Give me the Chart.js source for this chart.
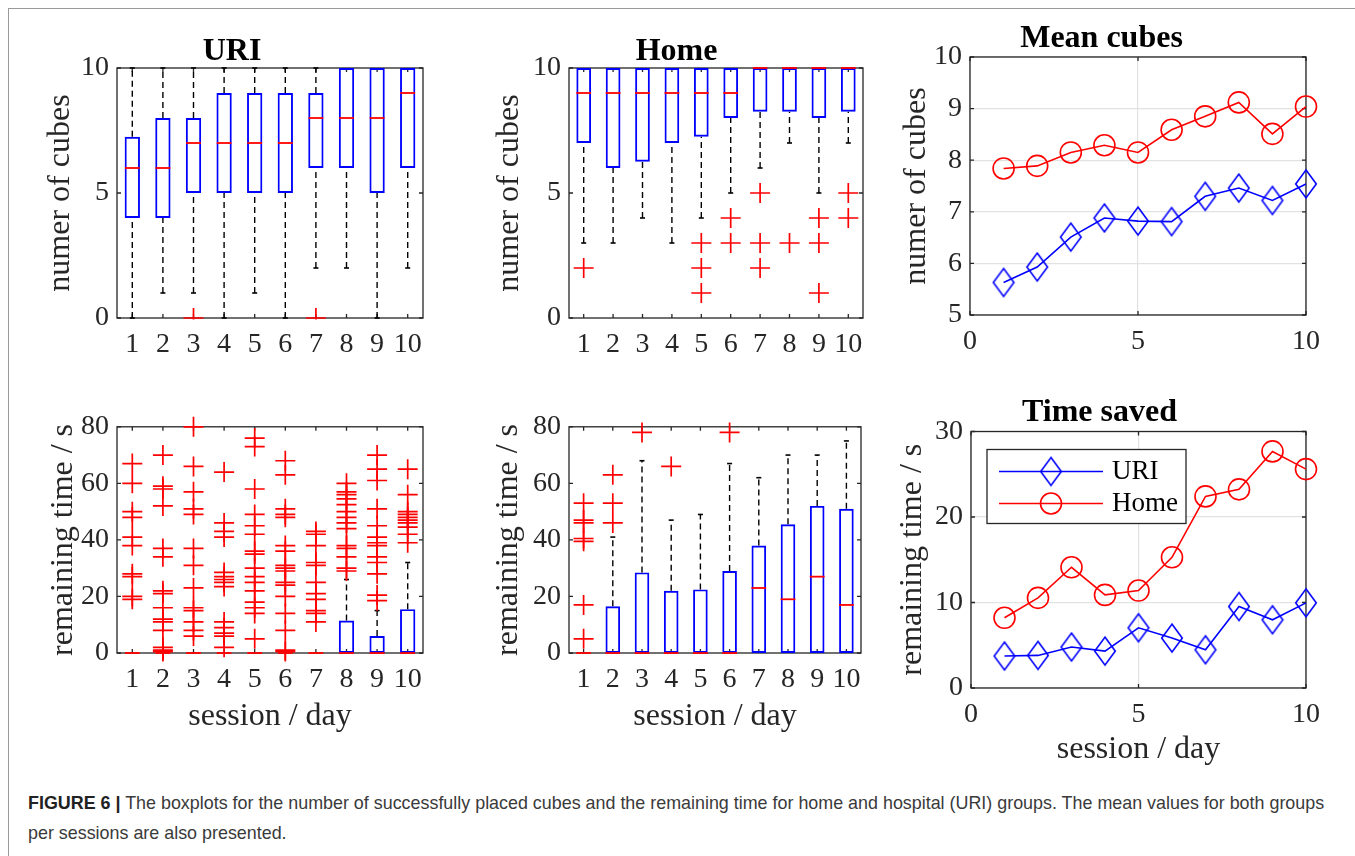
<!DOCTYPE html>
<html>
<head>
<meta charset="utf-8">
<script src="https://cdn.jsdelivr.net/npm/chart.js@4.4.0/dist/chart.umd.min.js"></script>
<style>
  body { margin: 0; width: 1355px; height: 856px; background: #fff; position: relative; overflow: hidden; }
  .frame { position: absolute; left: 8px; top: 8px; width: 1360px; height: 860px; border-left: 1px solid #9a9a9a; border-top: 1px solid #9a9a9a; }
  .caption { position: absolute; left: 28px; top: 788px; font: 17.9px 'Liberation Sans', Arial, sans-serif; line-height: 30px; color: #3a3a3a; white-space: nowrap; }
  .caption b { color: #222; }
</style>
</head>
<body>
<div class="frame"></div>
<div class="caption"><b>FIGURE 6 |</b> The boxplots for the number of successfully placed cubes and the remaining time for home and hospital (URI) groups. The mean values for both groups<br>per sessions are also presented.</div>
<script>
const sessions = ['1', '2', '3', '4', '5', '6', '7', '8', '9', '10']
const sessionNums = [1, 2, 3, 4, 5, 6, 7, 8, 9, 10]

// number of cubes, URI group
const uriCubesLo = [0, 1, 1, 0, 1, 0, 2, 2, 0, 2]
const uriCubesQ1 = [4, 4, 5, 5, 5, 5, 6, 6, 5, 6]
const uriCubesMed = [6, 6, 7, 7, 7, 7, 8, 8, 8, 9]
const uriCubesQ3 = [7.25, 8, 8, 9, 9, 9, 9, 10, 10, 10]
const uriCubesHi = [10, 10, 10, 10, 10, 10, 10, 10, 10, 10]
const uriCubesOut = [[], [], [0], [], [], [], [0], [], [], []]

// number of cubes, Home group
const homeCubesLo = [3, 3, 4, 3, 4, 5, 6, 7, 5, 7]
const homeCubesQ1 = [7, 6, 6.25, 7, 7.25, 8, 8.25, 8.25, 8, 8.25]
const homeCubesMed = [9, 9, 9, 9, 9, 9, 10, 10, 10, 10]
const homeCubesQ3 = [10, 10, 10, 10, 10, 10, 10, 10, 10, 10]
const homeCubesHi = [10, 10, 10, 10, 10, 10, 10, 10, 10, 10]
const homeCubesOut = [[2], [], [], [], [3, 2, 1], [4, 3], [5, 3, 2], [3], [4, 3, 1], [5, 4]]

// remaining time, URI group
const uriTimeLo = [0, 0, 0, 0, 0, 0, 0, 0, 0, 0]
const uriTimeQ1 = [0, 0, 0, 0, 0, 0, 0, 0, 0, 0]
const uriTimeMed = [0, 0, 0, 0, 0, 0, 0, 0, 0, 0]
const uriTimeQ3 = [0, 0, 0, 0, 0, 0, 0, 11.5, 6, 15.5]
const uriTimeHi = [0, 0, 0, 0, 0, 0, 0, 26, 15, 32]
const uriTimeOut = [
  [67, 60, 50, 48, 41, 38, 28, 27, 20, 19],
  [70, 59, 58, 52, 37, 34, 22, 21, 16, 12, 11, 8, 2, 1, 0.5],
  [80, 66, 57, 51, 49, 37, 31, 23, 16, 15, 11, 8, 6],
  [64, 46, 43, 41, 28.5, 27, 26, 25, 23.5, 11, 9, 7, 6, 2],
  [76, 73, 58, 49, 45, 42, 36, 35, 30, 27, 25, 22, 18, 16, 14, 5],
  [68, 63, 51, 49, 48, 38, 36, 31, 30, 29, 25, 24, 20, 14, 8, 1, 0.5],
  [43, 42, 38, 32, 31, 25, 21, 19, 15, 14, 11],
  [60, 57, 56, 54.5, 52.5, 50, 48, 46, 44, 38, 37, 34, 30, 29],
  [70, 65, 61, 51, 45, 41, 39, 38, 34, 32, 28, 20.5, 18.5],
  [65, 56, 50, 49, 48, 47, 46, 44.5, 42, 39]
]

// remaining time, Home group
const homeTimeLo = [0, 0, 0, 0, 0, 0, 0, 0, 0, 0]
const homeTimeQ1 = [0, 0, 0, 0, 0, 0, 0, 0, 0, 0]
const homeTimeMed = [0, 0, 0, 0, 0, 0, 23, 19, 27, 17]
const homeTimeQ3 = [0, 16.5, 28.5, 22, 22.5, 29, 38, 45.5, 52, 51]
const homeTimeHi = [0, 41, 68, 47, 49, 67, 62, 70, 70, 75]
const homeTimeOut = [[53, 47, 46, 40.5, 39.5, 17, 5], [63, 53, 46], [78], [66], [], [78], [], [], [], []]

// means per session
const uriMeanCubes = [5.63, 5.93, 6.51, 6.88, 6.82, 6.81, 7.30, 7.46, 7.22, 7.54]
const homeMeanCubes = [7.84, 7.89, 8.15, 8.29, 8.15, 8.59, 8.85, 9.12, 8.51, 9.04]
const uriMeanTime = [3.74, 3.81, 4.79, 4.32, 7.04, 5.84, 4.47, 9.53, 7.98, 9.96]
const homeMeanTime = [8.21, 10.54, 14.12, 10.89, 11.40, 15.29, 22.41, 23.23, 27.67, 25.6]

const BLUE = '#0000ff'
const RED = '#ff0000'
const AXIS = '#262626'
const SERIF = "'Liberation Serif', 'Times New Roman', serif"

Chart.defaults.font.family = SERIF
Chart.defaults.color = AXIS
Chart.defaults.animation = false

// MATLAB 'd' marker is a bit taller than wide
function diamondMarker (color) {
  const c = document.createElement('canvas')
  c.width = 24
  c.height = 32
  const g = c.getContext('2d')
  g.strokeStyle = color
  g.lineWidth = 1.6
  g.beginPath()
  g.moveTo(12, 2)
  g.lineTo(22.3, 16)
  g.lineTo(12, 30)
  g.lineTo(1.7, 16)
  g.closePath()
  g.stroke()
  return c
}
const diamondBlue = diamondMarker(BLUE)

// axes box and inward ticks, drawn under the data like MATLAB
const axesBox = {
  id: 'axesBox',
  beforeDatasetsDraw (chart) {
    const { ctx, chartArea: a, scales: { x, y } } = chart
    const len = 4
    ctx.save()
    ctx.strokeStyle = AXIS
    ctx.lineWidth = 1.3
    ctx.strokeRect(a.left, a.top, a.right - a.left, a.bottom - a.top)
    ctx.beginPath()
    x.ticks.forEach((t, i) => {
      const px = x.getPixelForTick(i)
      ctx.moveTo(px, a.bottom); ctx.lineTo(px, a.bottom - len)
      ctx.moveTo(px, a.top); ctx.lineTo(px, a.top + len)
    })
    y.ticks.forEach((t, i) => {
      const py = y.getPixelForTick(i)
      ctx.moveTo(a.left, py); ctx.lineTo(a.left + len, py)
      ctx.moveTo(a.right, py); ctx.lineTo(a.right - len, py)
    })
    ctx.stroke()
    ctx.restore()
  }
}

const timeLegend = {
  id: 'timeLegend',
  afterDatasetsDraw (chart) {
    const { ctx, chartArea: a } = chart
    const x0 = a.left + 16
    const y0 = a.top + 18
    ctx.save()
    ctx.fillStyle = '#fff'
    ctx.fillRect(x0, y0, 199, 74)
    ctx.strokeStyle = AXIS
    ctx.lineWidth = 1.3
    ctx.strokeRect(x0, y0, 199, 74)
    chart.data.datasets.forEach((ds, i) => {
      const ry = y0 + 22 + i * 32
      const mx = x0 + 64
      ctx.strokeStyle = ds.borderColor
      ctx.lineWidth = 1.5
      ctx.beginPath()
      ctx.moveTo(x0 + 12, ry)
      ctx.lineTo(x0 + 116, ry)
      ctx.stroke()
      if (ds.pointStyle === 'circle') {
        ctx.lineWidth = ds.pointBorderWidth
        ctx.beginPath()
        ctx.arc(mx, ry, ds.pointRadius, 0, Math.PI * 2)
        ctx.stroke()
      } else {
        ctx.drawImage(ds.pointStyle, mx - 12, ry - 16)
      }
      ctx.fillStyle = '#000'
      ctx.font = '27px ' + SERIF
      ctx.textBaseline = 'middle'
      ctx.textAlign = 'left'
      ctx.fillText(ds.label, x0 + 125, ry)
    })
    ctx.restore()
  }
}

const PAD_TOP = 20
const PAD_RIGHT = 26

function makeCanvas (plot, yW, xH, titleH) {
  const cv = document.createElement('canvas')
  const w = yW + plot.w + PAD_RIGHT
  const h = PAD_TOP + titleH + plot.h + xH
  cv.width = w
  cv.height = h
  cv.style.cssText = `position:absolute;left:${plot.l - yW}px;top:${plot.t - titleH - PAD_TOP}px;width:${w}px;height:${h}px`
  document.body.appendChild(cv)
  return cv
}

function baseOptions ({ yW, xH, title, titlePad, yTitle, xTitle, xScale, yScale, grid }) {
  const gridOpts = grid
    ? { display: true, color: '#e2e2e2', lineWidth: 1.2, drawTicks: false }
    : { display: false, drawTicks: false }
  return {
    responsive: false,
    animation: false,
    events: [],
    layout: { padding: { top: PAD_TOP, right: PAD_RIGHT, left: 0, bottom: 0 } },
    plugins: {
      legend: { display: false },
      tooltip: { enabled: false },
      title: title
        ? { display: true, text: title, color: '#000', font: { size: 32, weight: 'bold', lineHeight: 1 }, padding: { top: 0, bottom: titlePad } }
        : { display: false }
    },
    scales: {
      x: Object.assign({
        border: { display: false },
        grid: gridOpts,
        ticks: { font: { size: 28 }, padding: 10, maxRotation: 0, autoSkip: false },
        title: xTitle
          ? { display: true, text: xTitle, font: { size: 32, lineHeight: 1.2 }, padding: 0, color: AXIS }
          : { display: false },
        afterFit: s => { s.height = xH }
      }, xScale),
      y: Object.assign({
        type: 'linear',
        border: { display: false },
        grid: gridOpts,
        ticks: { font: { size: 28 }, padding: 8 },
        title: { display: true, text: yTitle, font: { size: 32, lineHeight: 1.2 }, padding: 0, color: AXIS },
        afterFit: s => { s.width = yW }
      }, yScale)
    }
  }
}

function boxplotDatasets (lo, q1, med, q3, hi, out, clipOut) {
  const whiskers = []
  const caps = []
  sessions.forEach((s, i) => {
    if (lo[i] < q1[i]) {
      whiskers.push({ x: s, y: lo[i] }, { x: s, y: q1[i] }, { x: s, y: null })
      caps.push({ x: s, y: lo[i] })
    }
    if (hi[i] > q3[i]) {
      whiskers.push({ x: s, y: q3[i] }, { x: s, y: hi[i] }, { x: s, y: null })
      caps.push({ x: s, y: hi[i] })
    }
  })
  const outliers = out.flatMap((vals, i) => vals.map(v => ({ x: sessions[i], y: v })))
  return [
    {
      type: 'bar',
      data: sessions.map((s, i) => (q3[i] > q1[i] ? [q1[i], q3[i]] : null)),
      backgroundColor: 'rgba(0,0,0,0)',
      borderColor: BLUE,
      borderWidth: 1.9,
      borderSkipped: false,
      inflateAmount: 0,
      barPercentage: 0.5,
      categoryPercentage: 1,
      order: 4
    },
    {
      type: 'line',
      data: whiskers,
      borderColor: '#000',
      borderWidth: 1.4,
      borderDash: [6, 4],
      pointRadius: 0,
      spanGaps: false,
      clip: false,
      order: 3
    },
    {
      type: 'line',
      data: caps,
      showLine: false,
      pointStyle: 'line',
      pointRadius: 2.5,
      pointBorderWidth: 1.6,
      pointBorderColor: '#000',
      clip: false,
      order: 2
    },
    {
      type: 'line',
      data: sessions.map((s, i) => ({ x: s, y: med[i] })),
      showLine: false,
      pointStyle: 'line',
      pointRadius: 7.4,
      pointBorderWidth: 1.8,
      pointBorderColor: RED,
      clip: false,
      order: 1
    },
    {
      type: 'line',
      data: outliers,
      showLine: false,
      pointStyle: 'cross',
      pointRadius: 10,
      pointBorderWidth: 1.7,
      pointBorderColor: RED,
      clip: clipOut ? 1.5 : false,
      order: 0
    }
  ]
}

function boxplotChart (plot, yW, xH, title, titlePad, yTitle, xTitle, yMax, yStep, stats, clipOut) {
  const titleH = title ? 32 + titlePad : 0
  const cv = makeCanvas(plot, yW, xH, titleH)
  return new Chart(cv, {
    type: 'bar',
    data: { labels: sessions, datasets: boxplotDatasets(...stats, clipOut) },
    options: baseOptions({
      yW, xH, title, titlePad, yTitle, xTitle,
      grid: false,
      xScale: { type: 'category', offset: true },
      yScale: { min: 0, max: yMax, ticks: { font: { size: 28 }, padding: 8, stepSize: yStep } }
    }),
    plugins: [axesBox]
  })
}

function meanDatasets (uriVals, homeVals) {
  return [
    {
      label: 'URI',
      data: sessionNums.map((x, i) => ({ x, y: uriVals[i] })),
      borderColor: BLUE,
      borderWidth: 1.6,
      pointStyle: diamondBlue,
      pointRadius: 10,
      clip: false
    },
    {
      label: 'Home',
      data: sessionNums.map((x, i) => ({ x, y: homeVals[i] })),
      borderColor: RED,
      borderWidth: 1.6,
      pointStyle: 'circle',
      pointRadius: 10.5,
      pointBorderWidth: 1.6,
      pointBorderColor: RED,
      pointBackgroundColor: 'rgba(0,0,0,0)',
      clip: false
    }
  ]
}

function meanChart (plot, yW, xH, title, titlePad, yTitle, xTitle, yMin, yMax, yStep, uriVals, homeVals, extra) {
  const titleH = 32 + titlePad
  const cv = makeCanvas(plot, yW, xH, titleH)
  return new Chart(cv, {
    type: 'line',
    data: { datasets: meanDatasets(uriVals, homeVals) },
    options: baseOptions({
      yW, xH, title, titlePad, yTitle, xTitle,
      grid: true,
      xScale: { type: 'linear', min: 0, max: 10, ticks: { font: { size: 28 }, padding: 10, stepSize: 5 } },
      yScale: { min: yMin, max: yMax, ticks: { font: { size: 28 }, padding: 8, stepSize: yStep } }
    }),
    plugins: [axesBox].concat(extra || [])
  })
}

boxplotChart({ l: 117, t: 68, w: 306, h: 250 }, 76, 50, 'URI', 0, 'numer of cubes', null, 10, 5,
  [uriCubesLo, uriCubesQ1, uriCubesMed, uriCubesQ3, uriCubesHi, uriCubesOut], true)
boxplotChart({ l: 569, t: 68, w: 294, h: 250 }, 79, 50, 'Home', 0, 'numer of cubes', null, 10, 5,
  [homeCubesLo, homeCubesQ1, homeCubesMed, homeCubesQ3, homeCubesHi, homeCubesOut], true)
meanChart({ l: 970, t: 57, w: 336, h: 258 }, 73, 50, 'Mean cubes', 2, 'numer of cubes', null, 5, 10, 1,
  uriMeanCubes, homeMeanCubes)

boxplotChart({ l: 117, t: 422, w: 306, h: 231 }, 73, 83, null, 0, 'remaining time / s', 'session / day', 80, 20,
  [uriTimeLo, uriTimeQ1, uriTimeMed, uriTimeQ3, uriTimeHi, uriTimeOut], false)
boxplotChart({ l: 569, t: 422, w: 292, h: 231 }, 80, 83, null, 0, 'remaining time / s', 'session / day', 80, 20,
  [homeTimeLo, homeTimeQ1, homeTimeMed, homeTimeQ3, homeTimeHi, homeTimeOut], false)
meanChart({ l: 971, t: 431, w: 335, h: 257 }, 78, 81, 'Time saved', 2.5, 'remaining time / s', 'session / day', 0, 30, 10,
  uriMeanTime, homeMeanTime, [timeLegend])
</script>
</body>
</html>
